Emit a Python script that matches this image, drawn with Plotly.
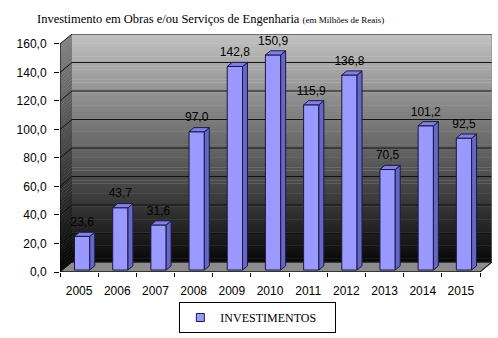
import numpy as np
import plotly.graph_objects as go

# ---- data ----
years = ["2005", "2006", "2007", "2008", "2009", "2010", "2011", "2012", "2013", "2014", "2015"]
values = [23.6, 43.7, 31.6, 97.0, 142.8, 150.9, 115.9, 136.8, 70.5, 101.2, 92.5]
y_ticks = [0, 20, 40, 60, 80, 100, 120, 140, 160]
y_tick_labels = ["0,0", "20,0", "40,0", "60,0", "80,0", "100,0", "120,0", "140,0", "160,0"]
series_name = "INVESTIMENTOS"
title_main = "Investimento em Obras e/ou Serviços de Engenharia"
title_sub = "(em Milhões de Reais)"

# ---- 3D geometry (in axis units) ----
n = len(years)
idx = np.arange(n)
DX, DY = 0.3143, 6.99          # depth offset of back wall
X0, X1 = -0.5, n - 0.5
YMAX = y_ticks[-1]
bar_off, bar_w, base = 0.08, 0.40, 1.4
sx, sy = 0.13, 2.9             # bar depth
FRONT, SIDE, TOP, EDGE = "#9999FF", "#6666C8", "#8080E6", "#1a1a40"

fig = go.Figure()

fig.add_bar(x=idx + bar_off, y=values, base=base, width=bar_w,
            marker=dict(color=FRONT, line=dict(color=EDGE, width=1)),
            name=series_name, showlegend=False, hoverinfo="skip")

# side faces and top faces
side_x, side_y, top_x, top_y = [], [], [], []
for i, v in zip(idx, values):
    xr = i + bar_off + bar_w / 2
    xl = i + bar_off - bar_w / 2
    yt = base + v
    side_x += [xr, xr + sx, xr + sx, xr, xr, None]
    side_y += [base, base + sy, yt + sy, yt, base, None]
    top_x += [xl, xr, xr + sx, xl + sx, xl, None]
    top_y += [yt, yt, yt + sy, yt + sy, yt, None]

fig.add_trace(go.Scatter(x=side_x, y=side_y, mode="lines", fill="toself",
                         fillcolor=SIDE, line=dict(color=EDGE, width=1),
                         showlegend=False, hoverinfo="skip"))
fig.add_trace(go.Scatter(x=top_x, y=top_y, mode="lines", fill="toself",
                         fillcolor=TOP, line=dict(color=EDGE, width=1),
                         showlegend=False, hoverinfo="skip"))

fig.add_trace(go.Scatter(x=idx + bar_off, y=[base + v + sy + 2.2 for v in values],
                         mode="text", text=[f"{v:.1f}".replace(".", ",") for v in values],
                         textposition="top center",
                         textfont=dict(family="Liberation Sans", size=12, color="black"),
                         showlegend=False, hoverinfo="skip", cliponaxis=False))

# legend entry (small square like the original)
fig.add_trace(go.Scatter(x=[None], y=[None], mode="markers", name=series_name,
                         marker=dict(symbol="square", size=8, color=FRONT,
                                     line=dict(color=EDGE, width=1))))

# ---- walls (decoration) ----
shapes = []
NB = 70
for k in range(NB):
    t = (k + 0.5) / NB
    c = int(8 + 187 * t)
    cs = int(c * 0.68)
    ya = k * YMAX / NB
    yb = min((k + 1) * YMAX / NB + 0.3, YMAX)
    shapes.append(dict(type="rect", xref="x", yref="y", x0=X0 + DX, x1=X1 + DX,
                       y0=DY + ya, y1=DY + yb, layer="below",
                       fillcolor=f"rgb({c},{c},{c})", line=dict(width=0)))
    shapes.append(dict(type="path", xref="x", yref="y", layer="below",
                       path=f"M {X0},{ya} L {X0+DX},{ya+DY} L {X0+DX},{yb+DY} L {X0},{yb} Z",
                       fillcolor=f"rgb({cs},{cs},{cs})", line=dict(width=0)))

# floor
shapes.append(dict(type="path", xref="x", yref="y", layer="below",
                   path=f"M {X0},0 L {X1},0 L {X1+DX},{DY} L {X0+DX},{DY} Z",
                   fillcolor="#8c8c8c", line=dict(color="#333333", width=0.8)))

# gridlines
for v in y_ticks:
    shapes.append(dict(type="line", xref="x", yref="y", layer="below",
                       x0=X0 + DX, x1=X1 + DX, y0=v + DY, y1=v + DY,
                       line=dict(color="#111111", width=1)))
    shapes.append(dict(type="line", xref="x", yref="y", layer="below",
                       x0=X0, x1=X0 + DX, y0=v, y1=v + DY,
                       line=dict(color="#111111", width=1)))
shapes.append(dict(type="line", xref="x", yref="y", layer="below",
                   x0=X1 + DX, x1=X1 + DX, y0=DY, y1=YMAX + DY,
                   line=dict(color="#888888", width=1)))
# axis lines
shapes.append(dict(type="line", xref="x", yref="y", x0=X0, x1=X0, y0=0, y1=YMAX,
                   line=dict(color="black", width=1)))
shapes.append(dict(type="line", xref="x", yref="y", x0=X0, x1=X1, y0=0, y1=0,
                   line=dict(color="black", width=1)))
shapes.append(dict(type="line", xref="x", yref="y", x0=X1, x1=X1 + DX, y0=0, y1=DY,
                   line=dict(color="black", width=1)))

fig.update_layout(
    width=498, height=338,
    margin=dict(l=60, r=6, t=34, b=65),
    paper_bgcolor="white", plot_bgcolor="white",
    shapes=shapes,
    showlegend=True,
    legend=dict(x=0.458, xanchor="center", y=-0.251, yanchor="bottom",
                orientation="h", bordercolor="black", borderwidth=1,
                bgcolor="white", entrywidth=110,
                font=dict(family="Liberation Serif", size=12, color="black")),
    xaxis=dict(range=[X0, X1 + DX], tickmode="array", tickvals=list(idx), ticktext=years,
               ticks="", showgrid=False, zeroline=False, showline=False,
               ticklabelstandoff=10, automargin=False,
               tickfont=dict(family="Liberation Sans", size=12, color="black"),
               minor=dict(tickmode="array", tickvals=list(np.arange(n + 1) - 0.5),
                          ticks="outside", ticklen=4, tickcolor="black", showgrid=False)),
    yaxis=dict(range=[0, YMAX + DY], tickmode="array", tickvals=y_ticks, ticktext=y_tick_labels,
               ticks="outside", ticklen=5, tickcolor="black", automargin=False,
               showgrid=False, zeroline=False, showline=False, ticklabelstandoff=5,
               tickfont=dict(family="Liberation Sans", size=12, color="black")),
    annotations=[dict(xref="paper", yref="paper", x=-0.058, y=1.063,
                      xanchor="left", yanchor="middle", showarrow=False,
                      text=f"{title_main} <span style='font-size:9px'>{title_sub}</span>",
                      font=dict(family="Liberation Serif", size=12.5, color="black"))],
)

fig.write_html("out.html")
